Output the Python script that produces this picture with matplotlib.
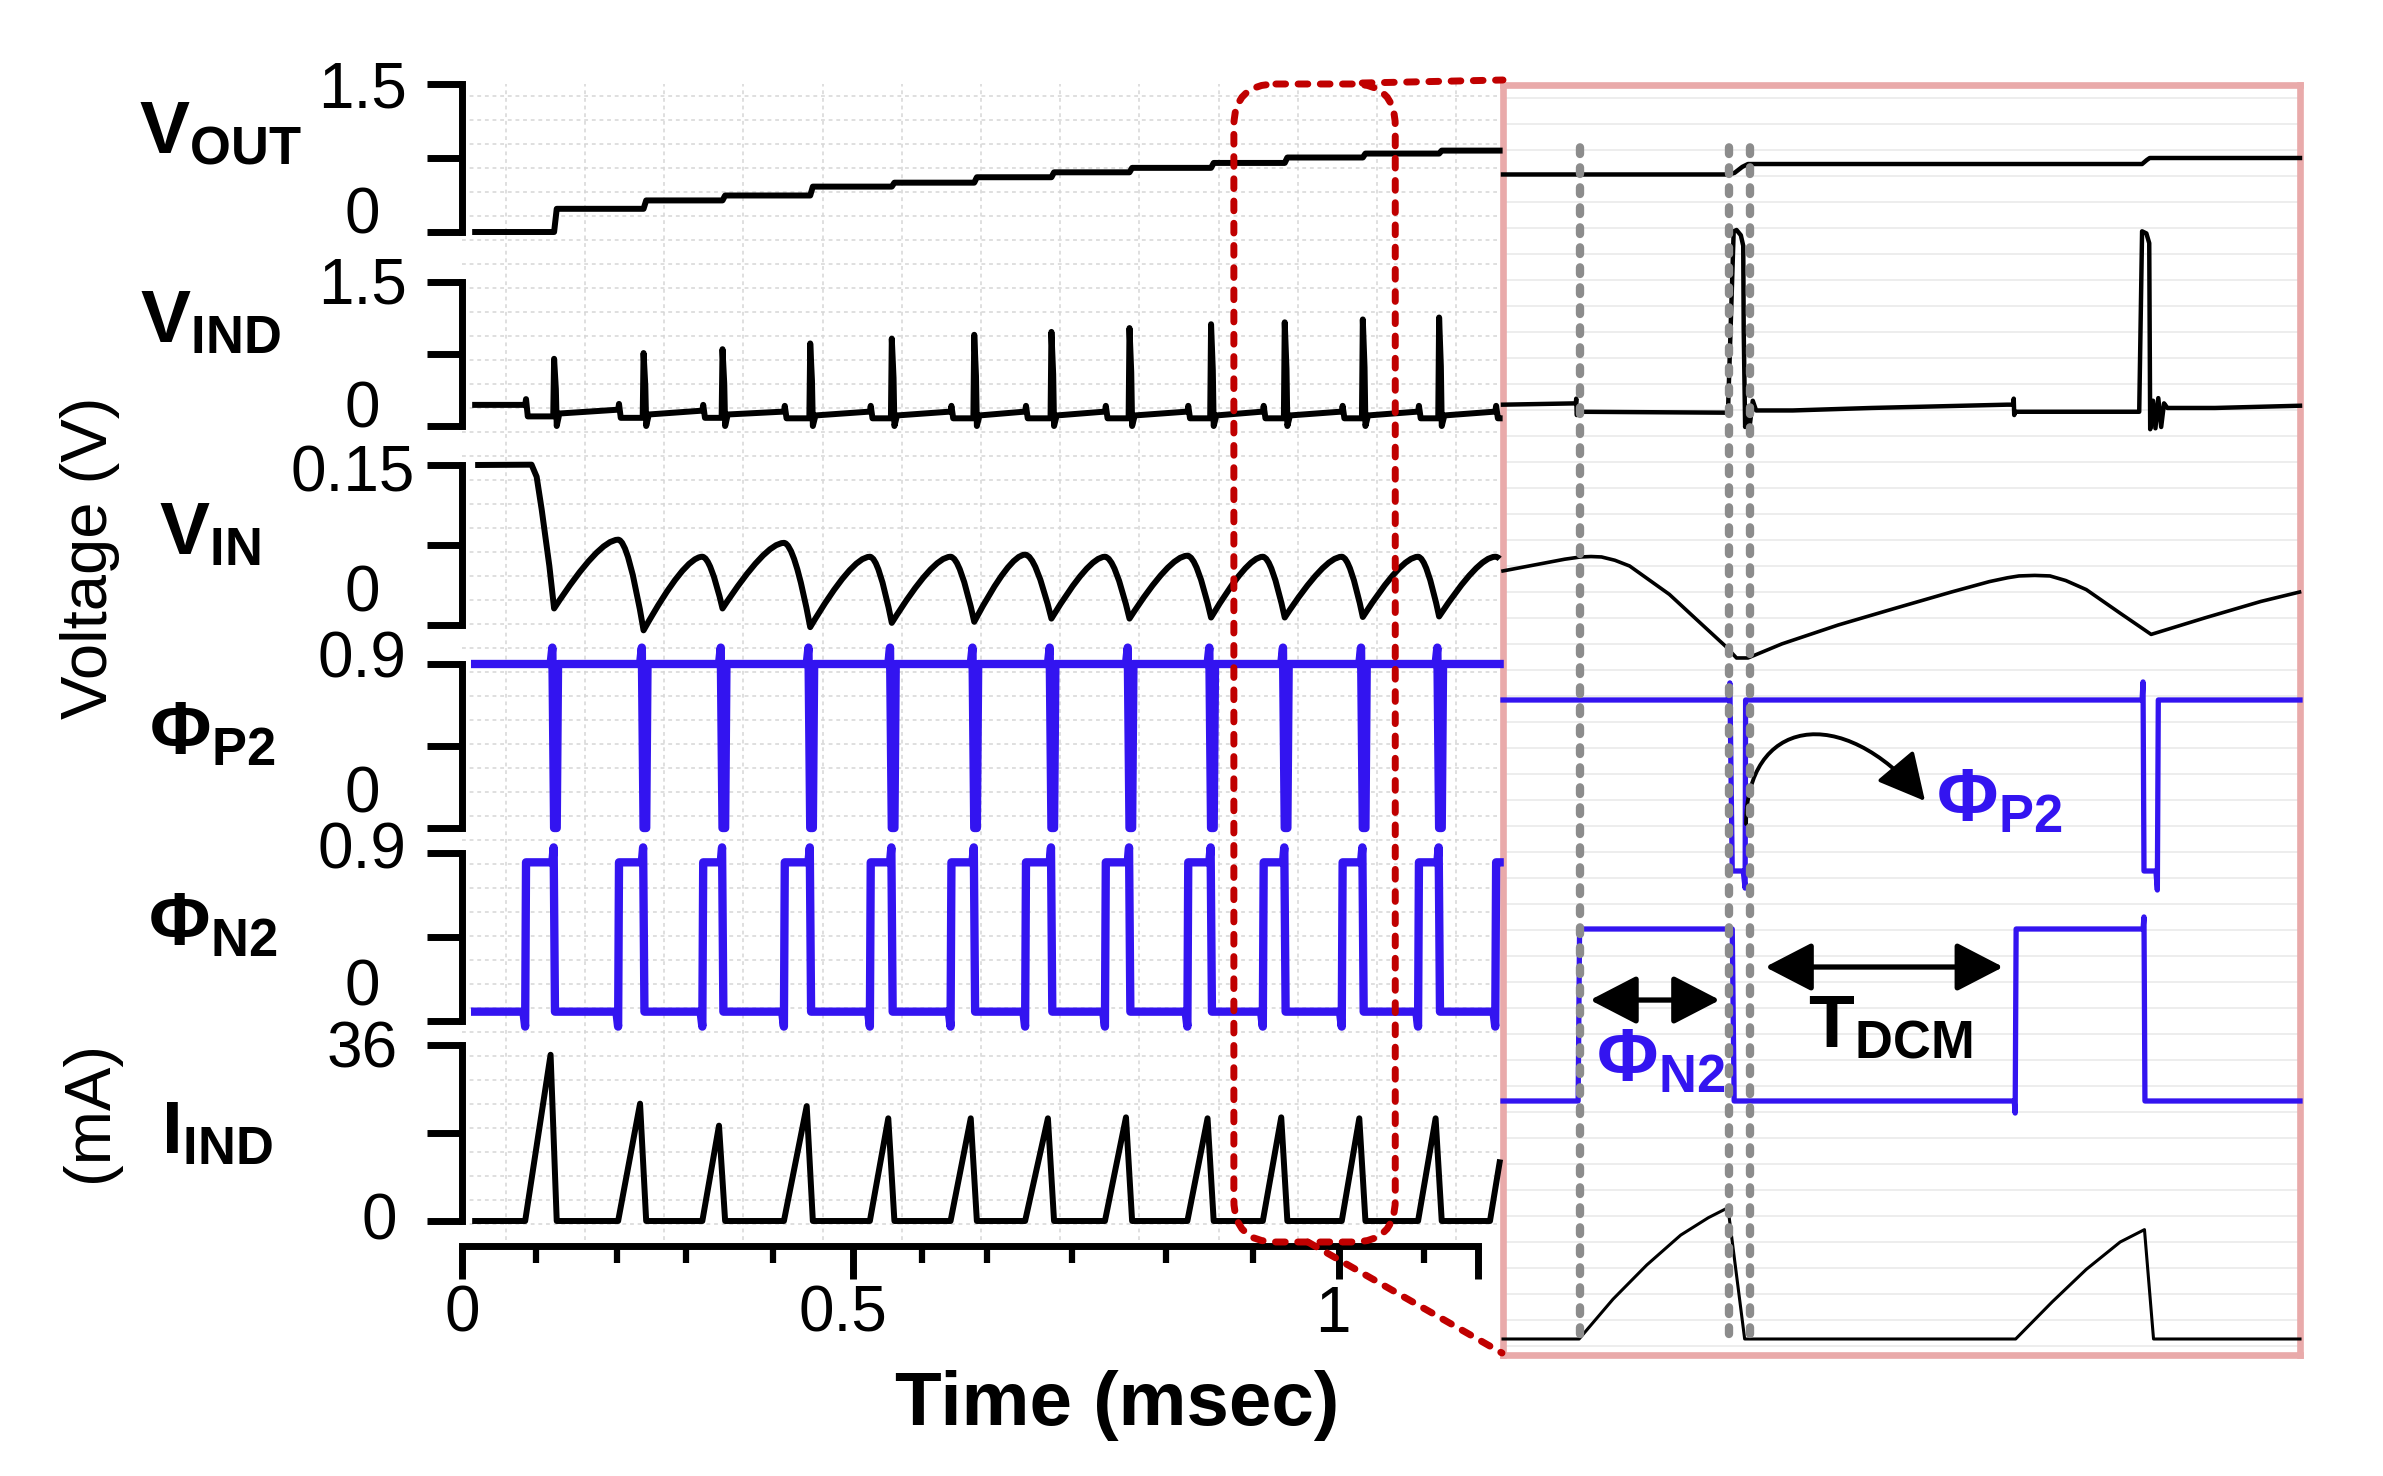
import matplotlib
matplotlib.use('Agg')
import matplotlib.pyplot as plt
from matplotlib.patches import FancyBboxPatch, FancyArrowPatch, PathPatch
from matplotlib.path import Path
from matplotlib.transforms import ScaledTranslation

# ======================= DATA =======================
# --- main (left) panels, time in ms ---
t_on = [0.072, 0.178, 0.274, 0.367, 0.465, 0.557, 0.642, 0.733, 0.827, 0.913, 1.003, 1.090, 1.178]
t_off = [0.105, 0.207, 0.297, 0.397, 0.490, 0.584, 0.672, 0.761, 0.854, 0.938, 1.027, 1.114]
t_start, t_end = 0.015, 1.183

vout_levels = [0.0, 0.235, 0.32, 0.37, 0.46, 0.50, 0.555, 0.605, 0.65, 0.70, 0.755, 0.795, 0.825]

vind_pre = [0.22, 0.17, 0.16, 0.15, 0.15, 0.15, 0.15, 0.15, 0.15, 0.15, 0.15, 0.15, 0.15]
vind_low = [0.10, 0.085, 0.085, 0.08, 0.08, 0.08, 0.08, 0.08, 0.08, 0.08, 0.08, 0.08, 0.08]
vind_peak = [0.70, 0.76, 0.80, 0.86, 0.91, 0.95, 0.98, 1.02, 1.06, 1.08, 1.11, 1.13]
vind_post = [0.13, 0.12, 0.12, 0.11, 0.11, 0.11, 0.11, 0.11, 0.11, 0.11, 0.11, 0.11]

vin_first_t = [0.015, 0.0793, 0.0851, 0.0909, 0.0996]
vin_first_v = [0.150, 0.1503, 0.139, 0.108, 0.0553]
vin_min = [0.0155, -0.005, 0.0155, -0.002, 0.002, 0.003, 0.006, 0.006, 0.007, 0.007, 0.0075, 0.008]
vin_peak = [0.080, 0.064, 0.077, 0.064, 0.064, 0.066, 0.064, 0.065, 0.064, 0.064, 0.064, 0.064]
vin_last = 0.062

p2_high, p2_over, p2_low = 0.9, 0.99, 0.0
n2_high, n2_over, n2_low, n2_dip = 0.85, 0.93, 0.05, -0.03

iind_peak_t = [0.101, 0.203, 0.293, 0.393, 0.486, 0.580, 0.668, 0.757, 0.850, 0.934, 1.023, 1.110]
iind_peak = [34, 24, 19.5, 23.5, 21, 21, 21, 21.2, 21, 21.2, 21, 21]
iind_end_t = [0.108, 0.210, 0.300, 0.400, 0.493, 0.587, 0.675, 0.764, 0.857, 0.941, 1.030, 1.117]
iind_last_t = [1.172, 1.183]
iind_last_v = [0.0, 12.0]

x_major = [0.0, 0.4453, 1.0, 1.158]
x_major_labels = ['0', '0.5', '1', '']
x_minor = [0.084, 0.177, 0.255, 0.355, 0.524, 0.599, 0.696, 0.803, 0.902, 1.097]
zoom_window = (0.880, 1.064)

# --- zoomed (right) panel, time in us ---
r_vout_t = [1.05, 48.4, 49.6, 51.2, 52.4, 135.0, 136.0, 136.6, 168.1]
r_vout_v = [0.583, 0.583, 0.60, 0.66, 0.689, 0.689, 0.73, 0.750, 0.750]

r_vind_t = [1.05, 16.3, 16.4, 16.5, 16.9, 47.6, 48.2, 49.4, 50.0, 50.9, 51.4, 51.5, 51.8, 52.2,
            52.8, 53.4, 54.1, 61.8, 78.3, 106.7, 108.0, 108.1, 108.2, 108.4, 134.4, 135.0, 135.9,
            136.5, 136.7, 137.3, 137.8, 138.4, 139.0, 139.6, 140.3, 150.3, 168.1]
r_vind_v = [0.170, 0.180, 0.216, 0.091, 0.116, 0.109, 0.109, 1.49, 1.50, 1.46, 1.38, 0.74, 0.0, 0.15,
            0.02, 0.20, 0.126, 0.126, 0.145, 0.170, 0.170, 0.216, 0.091, 0.116, 0.116, 1.49, 1.474,
            1.40, -0.017, 0.20, -0.01, 0.22, 0.0, 0.18, 0.145, 0.145, 0.162]

r_vin_t = [1.05, 14.0, 17.3, 19.5, 21.7, 24.5, 27.6, 35.9, 41.8, 47.7, 50.0, 52.4, 59.5, 71.3, 83.1,
           95.0, 103.0, 106.8, 109.2, 112.5, 115.7, 119.0, 123.3, 130.4, 136.9, 148.1, 159.9, 168.0]
r_vin_v = [0.0835, 0.0945, 0.0966, 0.0970, 0.0966, 0.0935, 0.0881, 0.0616, 0.0372, 0.0129, 0.0019,
           0.0019, 0.0151, 0.0328, 0.0483, 0.0637, 0.0735, 0.0771, 0.0788, 0.0793, 0.0788, 0.0745,
           0.0660, 0.0439, 0.0240, 0.0394, 0.0549, 0.0637]

r_p2_t = [1.05, 48.2, 48.6, 49.1, 51.4, 51.8, 51.9, 135.0, 135.2, 135.4, 137.9, 138.2, 138.4, 168.1]
r_p2_v = [0.9, 0.9, 0.99, 0.0, 0.0, -0.09, 0.9, 0.9, 0.995, 0.0, 0.0, -0.1, 0.9, 0.9]

r_n2_t = [1.05, 16.8, 17.1, 49.1, 49.5, 108.2, 108.4, 108.6, 135.2, 135.4, 135.6, 168.1]
r_n2_v = [0.0, 0.0, 0.9, 0.9, 0.0, 0.0, -0.063, 0.9, 0.9, 0.963, 0.0, 0.0]

r_iind_t = [1.05, 17.0, 24.1, 31.2, 38.3, 44.1, 48.2, 51.7, 108.5, 116.2, 123.3, 130.4, 135.5, 137.4, 168.1]
r_iind_v = [0, 0, 8.0, 14.9, 20.9, 24.4, 26.4, 0, 0, 7.5, 14.0, 19.5, 22.0, 0, 0]

r_guides = [17.2, 48.4, 52.8]

# ======================= STYLE / LAYOUT =======================
W, H, DPI = 2383, 1476, 100
BLUE = '#3314f0'
RED = '#c00000'
GRAY = '#8c8c8c'
FRAME = '#e9aaaa'
GRID = '#d6d6d6'
LW_MAIN, LW_BLUE = 4.3, 6.0

plt.rcParams['font.family'] = ['Liberation Sans', 'DejaVu Sans']
plt.rcParams['mathtext.fontset'] = 'custom'
plt.rcParams['mathtext.rm'] = 'Liberation Sans'
plt.rcParams['mathtext.bf'] = 'Liberation Sans:bold'
plt.rcParams['mathtext.it'] = 'Liberation Sans:italic'

fig = plt.figure(figsize=(W / DPI, H / DPI), dpi=DPI)
fig.patch.set_facecolor('white')


def px_axes(x0, y0, x1, y1, z=1):
    ax = fig.add_axes([x0 / W, 1 - y1 / H, (x1 - x0) / W, (y1 - y0) / H])
    ax.set_zorder(z)
    ax.patch.set_alpha(0)
    return ax


def shift(lbl, dx, dy):
    lbl.set_transform(lbl.get_transform() + ScaledTranslation(dx / DPI, -dy / DPI, fig.dpi_scale_trans))


MX0, MX1, TMAX = 462, 1497, 1.18

# ---- dotted background grid of the main panels ----
g = px_axes(MX0, 84, MX1, 1240, z=0)
g.set_xlim(0, TMAX)
g.set_ylim(1240, 84)
g.axis('off')
for k in range(13):
    g.axvline(0.050 + 0.0903 * k, color=GRID, lw=1.1, ls=(0, (2.5, 2.5)))
for yy in range(96, 1240, 24):
    g.axhline(yy, color=GRID, lw=1.1, ls=(0, (2.5, 2.5)))

# ---- build main traces ----
vout_t, vout_v = [t_start], [vout_levels[0]]
for k, tf in enumerate(t_off):
    vout_t += [tf, tf + 0.003]
    vout_v += [vout_levels[k], vout_levels[k + 1]]
vout_t.append(t_end); vout_v.append(vout_levels[-1])

vind_t, vind_v = [t_start], [vind_pre[0]]
for k, tf in enumerate(t_off):
    on = t_on[k]
    vind_t += [on, on + 0.001, on + 0.003, tf - 0.001, tf, tf + 0.002, tf + 0.003, tf + 0.006]
    vind_v += [vind_pre[k], vind_pre[k] + 0.06, vind_low[k], vind_low[k], vind_peak[k],
               vind_peak[k] * 0.55, 0.0, vind_post[k]]
on = t_on[-1]
vind_t += [on, on + 0.001, on + 0.003, t_end]
vind_v += [vind_pre[-1], vind_pre[-1] + 0.06, vind_low[-1], vind_low[-1]]

# V_IN: read peaks / minima joined by smooth (quadratic Bezier) arcs
vin_verts = list(zip(vin_first_t, vin_first_v))
vin_codes = [Path.MOVETO] + [Path.LINETO] * (len(vin_first_t) - 1)
vin_verts.append((t_off[0], vin_min[0])); vin_codes.append(Path.LINETO)
for k in range(len(t_off)):
    a, b = t_off[k], t_on[k + 1]
    vin_verts += [(b - 0.3 * (b - a), vin_peak[k]), (b, vin_peak[k])]
    vin_codes += [Path.CURVE3, Path.CURVE3]
    if k + 1 < len(t_off):
        c = t_off[k + 1]
        vin_verts += [(b + 0.4 * (c - b), vin_peak[k]), (c, vin_min[k + 1])]
        vin_codes += [Path.CURVE3, Path.CURVE3]
vin_verts += [(t_end - 0.002, vin_peak[-1]), (t_end, vin_last)]
vin_codes += [Path.CURVE3, Path.CURVE3]

p2_t, p2_v = [t_start], [p2_high]
for tf in t_off:
    p2_t += [tf - 0.004, tf - 0.002, tf, tf + 0.003, tf + 0.0045]
    p2_v += [p2_high, p2_over, p2_low, p2_low, p2_high]
p2_t.append(t_end); p2_v.append(p2_high)

n2_t, n2_v = [t_start], [n2_low]
for k, tf in enumerate(t_off):
    on = t_on[k]
    n2_t += [on - 0.002, on, on + 0.001, tf - 0.002, tf - 0.0005, tf + 0.001]
    n2_v += [n2_low, n2_dip, n2_high, n2_high, n2_over, n2_low]
on = t_on[-1]
n2_t += [on - 0.002, on, on + 0.001, t_end]
n2_v += [n2_low, n2_dip, n2_high, n2_high]

iind_t, iind_v = [t_start], [0.0]
for k in range(len(t_off)):
    iind_t += [t_on[k], iind_peak_t[k], iind_end_t[k]]
    iind_v += [0.0, iind_peak[k], 0.0]
iind_t += iind_last_t
iind_v += iind_last_v

rows = [
    (vout_t, vout_v, 84, 232, 1.5, [0, 0.75, 1.5], ['0', '', '1.5'], {0: (0, -15), 2: (0, 6)}, 'k', LW_MAIN),
    (vind_t, vind_v, 282, 426, 1.5, [0, 0.75, 1.5], ['0', '', '1.5'], {0: (0, -16), 2: (0, 5)}, 'k', LW_MAIN),
    (None, None, 465, 625, 0.15, [0, 0.075, 0.15], ['0', '', '0.15'], {0: (0, -31), 2: (-10, 9)}, 'k', LW_MAIN),
    (p2_t, p2_v, 664, 828, 0.9, [0, 0.45, 0.9], ['0', '', '0.9'], {0: (0, -33), 2: (0, -4)}, BLUE, LW_BLUE),
    (n2_t, n2_v, 853, 1021, 0.9, [0, 0.45, 0.9], ['0', '', '0.9'], {0: (0, -33), 2: (0, -1)}, BLUE, LW_BLUE),
    (iind_t, iind_v, 1045, 1221, 36, [0, 18, 36], ['0', '', '36'], {0: (17, 2), 2: (0, 5)}, 'k', LW_MAIN),
]

main_axes = []
for (tt, vv, top, bot, ymax, ticks, labs, offs, col, lw) in rows:
    ax = px_axes(MX0, top, MX1, bot, z=2)
    ax.set_xlim(0, TMAX)
    ax.set_ylim(0, ymax)
    for s in ['top', 'right', 'bottom']:
        ax.spines[s].set_visible(False)
    ax.spines['left'].set_linewidth(5)
    ax.set_xticks([])
    ax.set_yticks(ticks)
    ax.set_yticklabels(labs)
    ax.tick_params(axis='y', direction='out', length=25, width=5, pad=46.8, labelsize=46)
    for i, lbl in enumerate(ax.get_yticklabels()):
        lbl.set_ha('center')
        lbl.set_va('center')
        if i in offs:
            shift(lbl, *offs[i])
    if tt is None:
        ax.add_patch(PathPatch(Path(vin_verts, vin_codes), fill=False, ec=col, lw=lw,
                               joinstyle='round', clip_on=False))
    else:
        ax.plot(tt, vv, color=col, lw=lw, clip_on=False, solid_joinstyle='round')
    main_axes.append(ax)

# ---- time axis ----
axx = px_axes(MX0, 1150, MX1, 1246, z=2)
axx.set_xlim(0, TMAX)
for s in ['top', 'right', 'left']:
    axx.spines[s].set_visible(False)
axx.spines['bottom'].set_linewidth(5)
axx.spines['bottom'].set_bounds(0, x_major[-1])
axx.set_yticks([])
axx.set_xticks(x_major)
axx.set_xticklabels(x_major_labels)
axx.set_xticks(x_minor, minor=True)
axx.tick_params(axis='x', which='major', direction='out', length=24, width=5, labelsize=46, pad=4)
axx.tick_params(axis='x', which='minor', direction='out', length=12, width=4.5)
xl = axx.get_xticklabels()
shift(xl[1], -10, 0)
shift(xl[2], -6, 0)

# ---- zoomed panel ----
RX0, RX1, RY0, RY1 = 1503, 2300, 85, 1355
RXLIM = (1.05, 168.1)
axr = px_axes(RX0, RY0, RX1, RY1, z=1)
axr.patch.set_alpha(1)
axr.set_facecolor('white')
axr.set_xlim(*RXLIM)
axr.set_ylim(0, 1)
axr.set_xticks([]); axr.set_yticks([])
for s in axr.spines.values():
    s.set_color(FRAME); s.set_linewidth(4.8)
for py in range(98, RY1, 26):
    axr.axhline((RY1 - py) / (RY1 - RY0), color='#ececec', lw=1.3, zorder=0)

r_rows = [
    (r_vout_t, r_vout_v, 84, 232, 1.5, 'k', 3.2),
    (r_vind_t, r_vind_v, 230, 427, 1.5, 'k', 3.2),
    (r_vin_t, r_vin_v, 500, 660, 0.15, 'k', 2.6),
    (r_p2_t, r_p2_v, 700, 871, 0.9, BLUE, 3.8),
    (r_n2_t, r_n2_v, 929, 1101, 0.9, BLUE, 3.8),
    (r_iind_t, r_iind_v, 1160, 1339, 36, 'k', 2.2),
]
for (tt, vv, top, bot, ymax, col, lw) in r_rows:
    a = px_axes(RX0, top, RX1, bot, z=3)
    a.axis('off')
    a.set_xlim(*RXLIM)
    a.set_ylim(0, ymax)
    a.plot(tt, vv, color=col, lw=lw, clip_on=False, solid_joinstyle='round')

# annotation layer over the zoomed panel
ara = px_axes(RX0, RY0, RX1, RY1, z=4)
ara.axis('off')
ara.set_xlim(*RXLIM)
ara.set_ylim(0, 1)
for xg in r_guides:
    ara.plot([xg, xg], [0.0165, 0.952], color=GRAY, lw=6.0, ls=(0, (0.8, 1.6)),
             dash_capstyle='round', clip_on=False)

curve = Path([(52.0, 0.4181), (52.0, 0.500), (71.7, 0.5157), (89.5, 0.4362)],
             [Path.MOVETO, Path.CURVE4, Path.CURVE4, Path.CURVE4])
ara.add_patch(FancyArrowPatch(path=curve, arrowstyle='-|>,head_length=2.9,head_width=1.5',
                              mutation_scale=10, lw=2.8, color='k'))
for (xa, xb, yy) in [(19.3, 46.5, 0.2795), (56.0, 105.9, 0.3055)]:
    ara.add_patch(FancyArrowPatch((xa, yy), (xb, yy), arrowstyle='<|-|>,head_length=2.9,head_width=1.5',
                                  mutation_scale=10, lw=3.8, color='k', shrinkA=0, shrinkB=0))
ara.text(91.8, 0.4205, r'$\mathbf{Φ}_{\mathbf{P2}}$', color=BLUE, fontsize=54, ha='left', va='baseline')
ara.text(20.5, 0.2157, r'$\mathbf{Φ}_{\mathbf{N2}}$', color=BLUE, fontsize=54, ha='left', va='baseline')
ara.text(65.0, 0.2425, r'$\mathbf{T}_{\mathbf{DCM}}$', color='k', fontsize=54, ha='left', va='baseline')

# ---- overlay: labels, zoom box, connectors ----
ov = fig.add_axes([0, 0, 1, 1])
ov.set_zorder(10)
ov.patch.set_alpha(0)
ov.set_xlim(0, W)
ov.set_ylim(H, 0)
ov.axis('off')

names = [(r'$\mathbf{V}_{\mathbf{OUT}}$', 139, 153), (r'$\mathbf{V}_{\mathbf{IND}}$', 140, 342),
         (r'$\mathbf{V}_{\mathbf{IN}}$', 159, 554), (r'$\mathbf{Φ}_{\mathbf{P2}}$', 149, 754),
         (r'$\mathbf{Φ}_{\mathbf{N2}}$', 148, 945), (r'$\mathbf{I}_{\mathbf{IND}}$', 161, 1153)]
for s, x, y in names:
    ov.text(x, y, s, fontsize=54, ha='left', va='baseline', color='k')

ov.text(90, 558, 'Voltage (V)', rotation=90, fontsize=47, ha='center', va='center')
ov.text(90, 1111, '(mA)', rotation=90, fontsize=47, ha='center', va='center')
ov.text(1117, 1425, 'Time (msec)', fontsize=55, fontweight='bold', ha='center', va='baseline')

bx0 = main_axes[0].transData.transform((zoom_window[0], 0))[0]
bx1 = main_axes[0].transData.transform((zoom_window[1], 0))[0]
BY0, BY1 = 84, 1242
RLS = (0, (1.4, 1.8))
box = FancyBboxPatch((bx0, BY0), bx1 - bx0, BY1 - BY0, boxstyle='round,pad=0,rounding_size=42',
                     fill=False, ec=RED, lw=5.0, ls=RLS)
box.set_capstyle('round')
ov.add_patch(box)
ov.plot([bx1 - 33, RX0], [BY0 - 1, RY0 - 5], color=RED, lw=5.0, ls=RLS, dash_capstyle='round')
ov.plot([bx0 + 74, RX0 - 1], [BY1, RY1 - 2], color=RED, lw=5.0, ls=RLS, dash_capstyle='round')

fig.savefig('out.png', dpi=DPI, facecolor='white')
